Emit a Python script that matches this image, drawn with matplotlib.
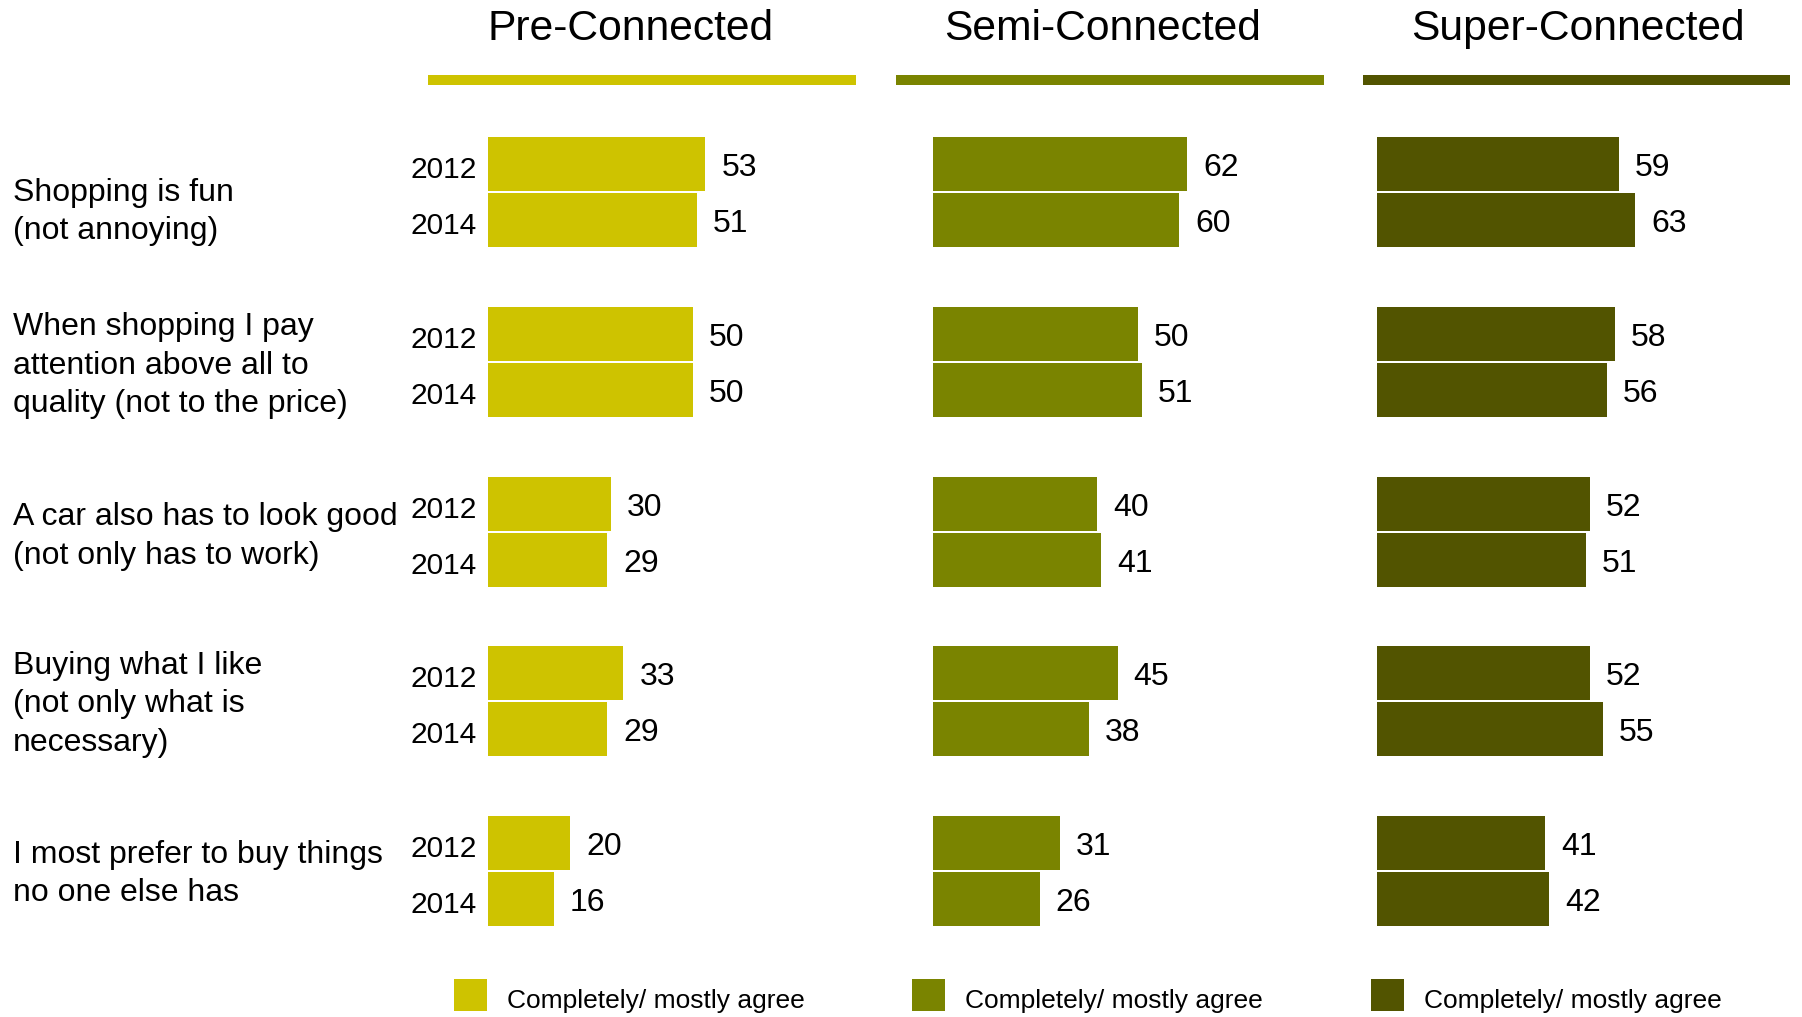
import matplotlib
matplotlib.use("Agg")
import matplotlib.pyplot as plt
from matplotlib.patches import Rectangle

plt.rcParams['font.family'] = ['Liberation Sans', 'DejaVu Sans']

# ---- data -------------------------------------------------------------
segments = ["Pre-Connected", "Semi-Connected", "Super-Connected"]
segment_colors = ["#CEC300", "#7A8400", "#525400"]
statements = [
    "Shopping is fun\n(not annoying)",
    "When shopping I pay\nattention above all to\nquality (not to the price)",
    "A car also has to look good\n(not only has to work)",
    "Buying what I like\n(not only what is\nnecessary)",
    "I most prefer to buy things\nno one else has",
]
years = ["2012", "2014"]
pre_2012 = [53, 50, 30, 33, 20]
pre_2014 = [51, 50, 29, 29, 16]
semi_2012 = [62, 50, 40, 45, 31]
semi_2014 = [60, 51, 41, 38, 26]
super_2012 = [59, 58, 52, 52, 41]
super_2014 = [63, 56, 51, 55, 42]
legend_label = "Completely/ mostly agree"

values = [
    (pre_2012, pre_2014),
    (semi_2012, semi_2014),
    (super_2012, super_2014),
]

# ---- layout (pixels on a 1802 x 1017 canvas) ---------------------------
W, H = 1802, 1017
fig = plt.figure(figsize=(W / 100, H / 100), dpi=100)


def fx(x):
    return x / W


def fy(y):
    return 1 - y / H


px_per_unit = 4.1
panel_left = [488, 933, 1377]
panel_width = 400
group_top = 192          # pixel centre of first group
group_pitch = 169.75     # pixels between group centres
bar_offset = 28 / group_pitch
bar_height = 54 / group_pitch

ymax = (H - group_top) / group_pitch
ymin = -group_top / group_pitch

title_x = [631, 1103, 1578]
rule_x = [(428, 856), (896, 1324), (1363, 1790)]
legend_box_x = [454, 912, 1371]

n = len(statements)
for k, (seg, col, (v12, v14)) in enumerate(zip(segments, segment_colors, values)):
    ax = fig.add_axes([fx(panel_left[k]), 0, panel_width / W, 1])
    ax.set_xlim(0, panel_width / px_per_unit)
    ax.set_ylim(ymax, ymin)
    ax.axis("off")
    ys = list(range(n))
    for vals, sign in ((v12, -1), (v14, 1)):
        pos = [y + sign * bar_offset for y in ys]
        bars = ax.barh(pos, vals, height=bar_height, color=col, edgecolor="none")
        for rect, v in zip(bars, vals):
            ax.text(v + 16 / px_per_unit,
                    rect.get_y() + rect.get_height() / 2 + 4 / group_pitch,
                    f"{v}", va="center", ha="left", fontsize=23, color="black",
                    clip_on=False)

    # segment header with coloured rule
    fig.text(fx(title_x[k]), fy(29), seg, ha="center", va="center",
             fontsize=30.7, color="black")
    x0, x1 = rule_x[k]
    fig.patches.append(Rectangle((fx(x0), fy(85)), (x1 - x0) / W, 10 / H,
                                 transform=fig.transFigure, color=col,
                                 linewidth=0))

    # legend swatch
    fig.patches.append(Rectangle((fx(legend_box_x[k]), fy(1011)), 33 / W, 32 / H,
                                 transform=fig.transFigure, color=col,
                                 linewidth=0))
    fig.text(fx(legend_box_x[k] + 53), fy(1001), legend_label, ha="left",
             va="center", fontsize=19, color="black")

    if k == 0:
        # year labels and statement labels on the left
        label_shift = [20, 4, 5, 3, 3]
        for g in range(n):
            for yr, sign in zip(years, (-1, 1)):
                ax.text(-11 / px_per_unit, g + sign * bar_offset + 6 / group_pitch,
                        yr, ha="right", va="center", fontsize=21.5, clip_on=False)
            ax.text(-475 / px_per_unit, g + label_shift[g] / group_pitch,
                    statements[g], ha="left", va="center", fontsize=23,
                    linespacing=1.38, clip_on=False)

fig.savefig("out.png", dpi=100)
